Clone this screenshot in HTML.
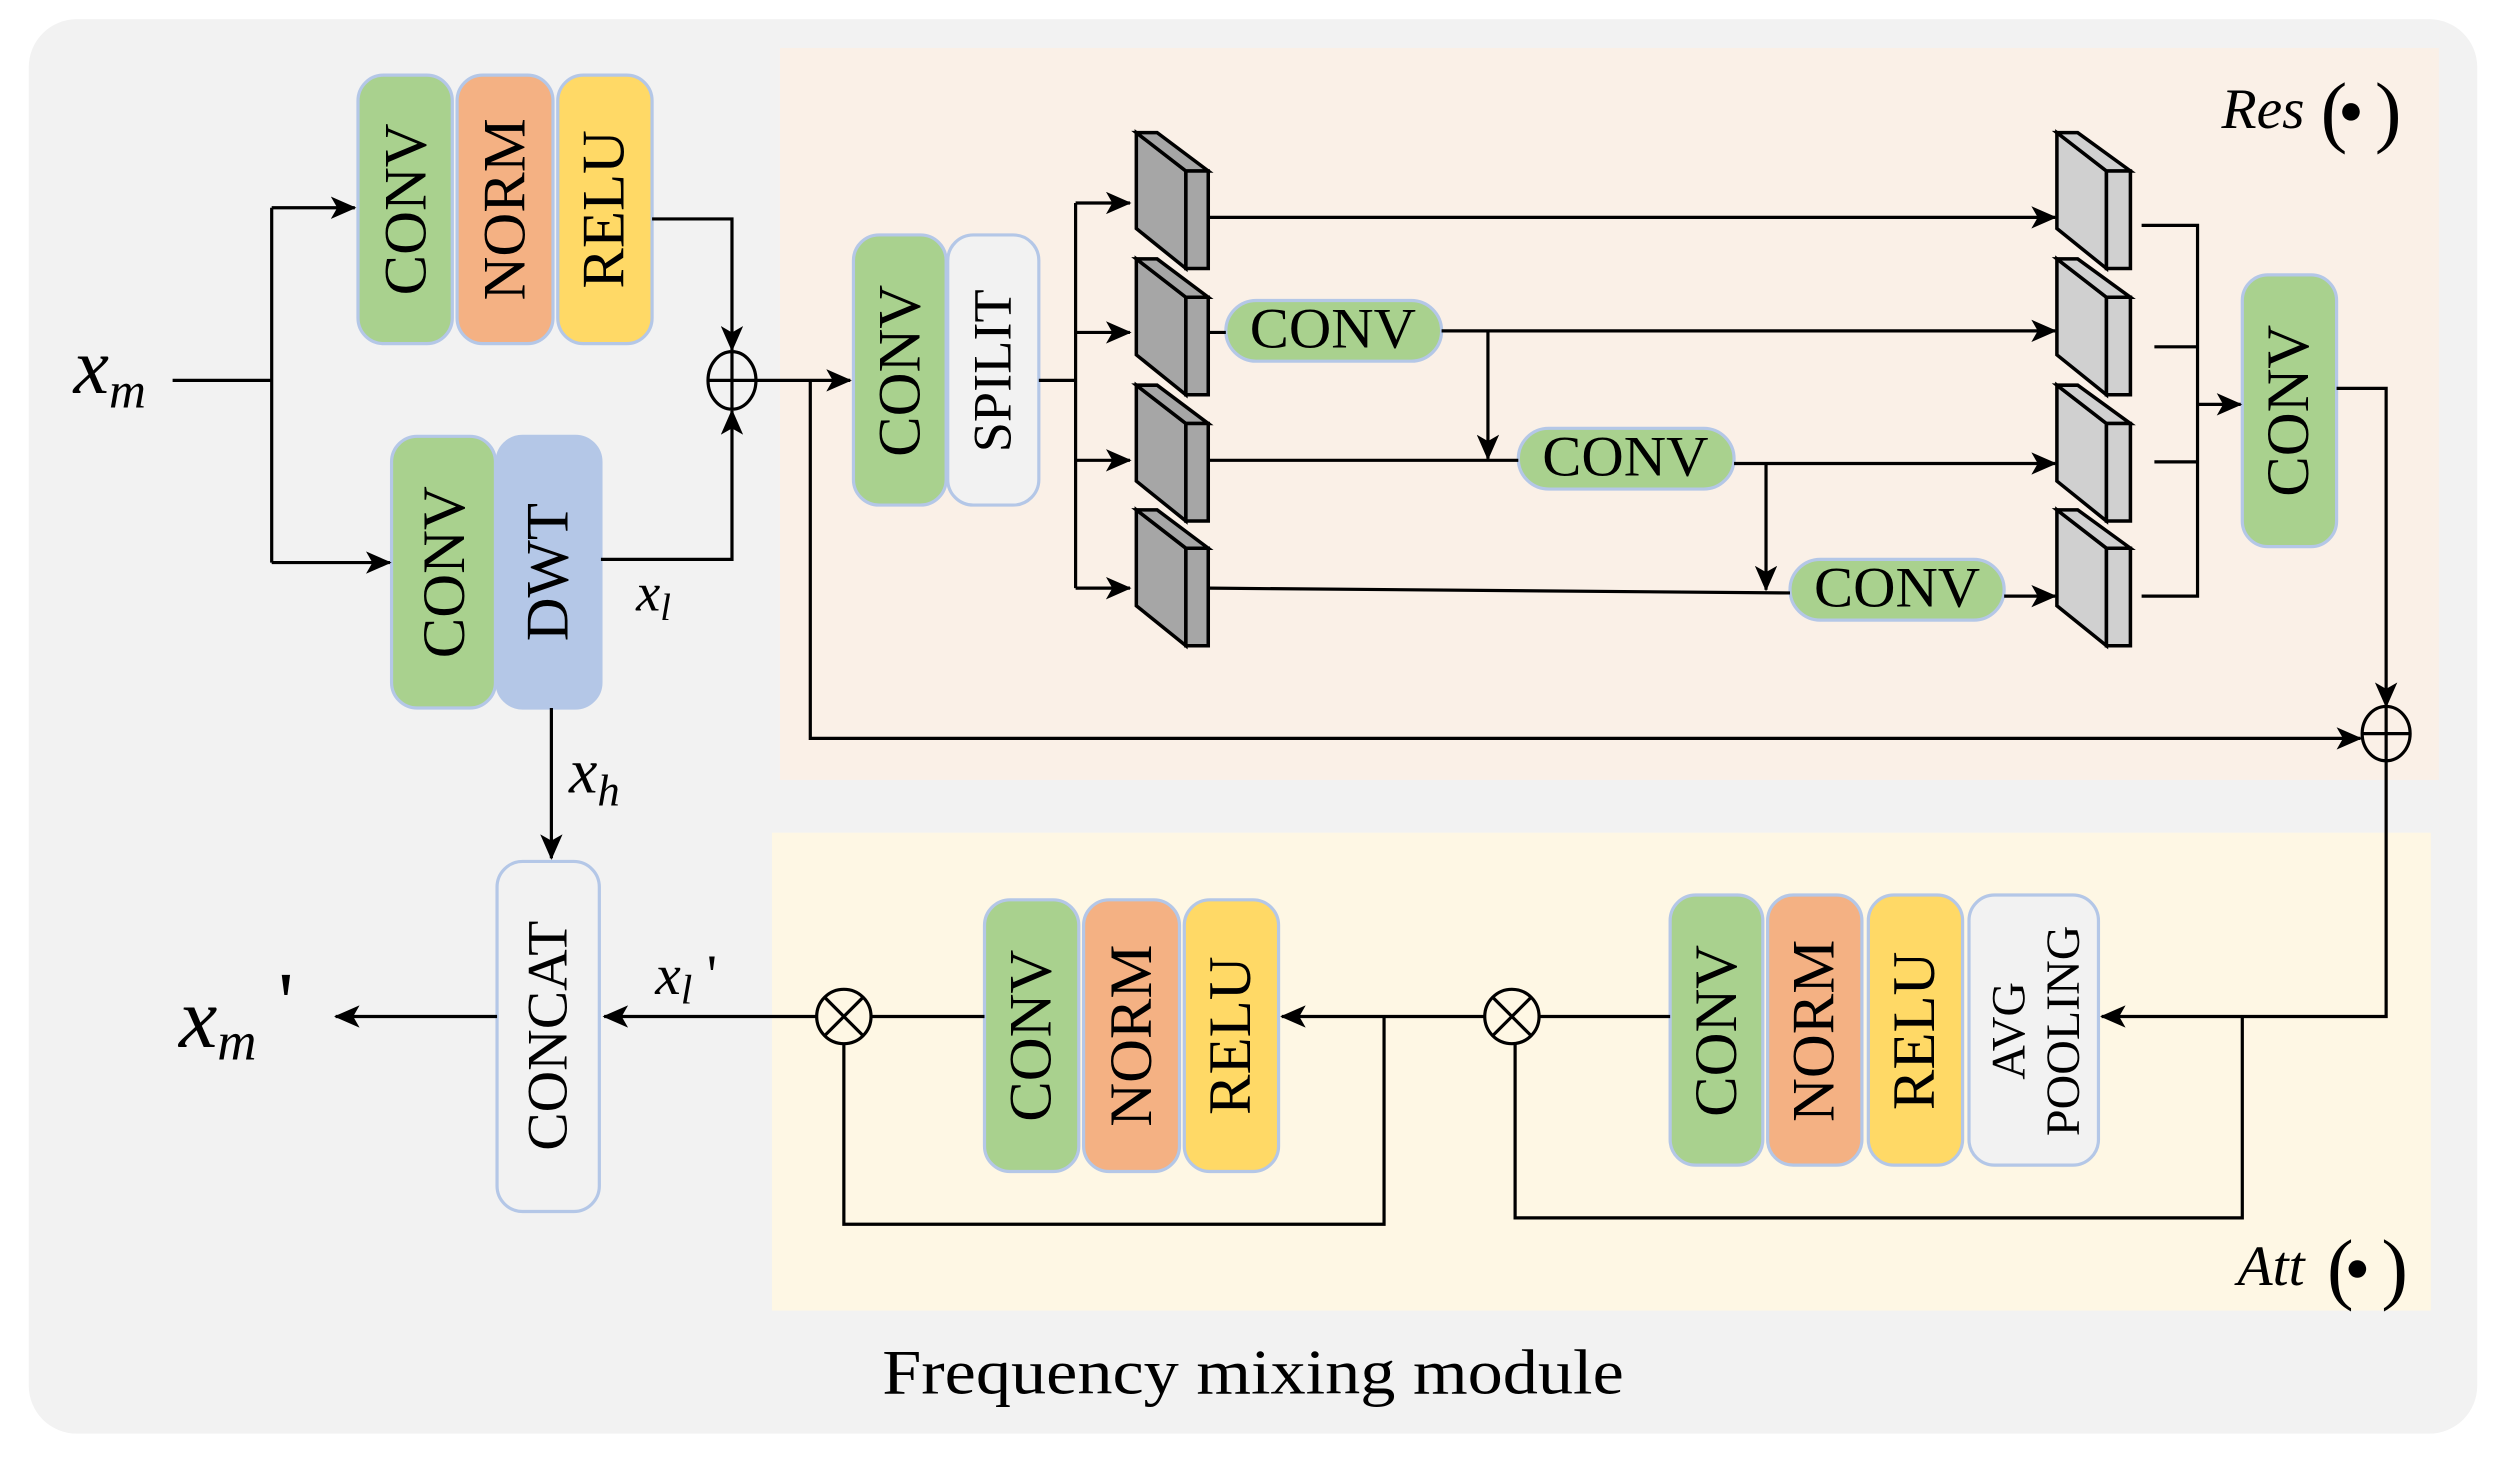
<!DOCTYPE html>
<html><head><meta charset="utf-8"><style>html,body{margin:0;padding:0;background:#fff}svg{display:block}</style></head>
<body>
<svg width="2506" height="1468" viewBox="0 0 1568 918.5" preserveAspectRatio="none" xmlns="http://www.w3.org/2000/svg" font-family="'Liberation Serif', serif">
<defs>
<marker id="a" markerWidth="16" markerHeight="14" refX="15" refY="7" orient="auto" markerUnits="userSpaceOnUse"><path d="M0,0 L16,7 L0,14 L4,7 Z" fill="#000"/></marker>
</defs>
<rect x="18" y="12" width="1532" height="885" rx="30" fill="#f2f2f2"/>
<rect x="488" y="30" width="1038" height="458" fill="#faf0e7"/>
<rect x="483" y="521" width="1038" height="299" fill="#fef7e4"/>
<g stroke="#b4c7e7" stroke-width="2">
<rect x="224" y="47" width="59" height="168" rx="16" fill="#a9d18e"/>
<rect x="286" y="47" width="60" height="168" rx="16" fill="#f4b183"/>
<rect x="349" y="47" width="59" height="168" rx="16" fill="#ffd966"/>
<rect x="245" y="273" width="65" height="170" rx="16" fill="#a9d18e"/>
<rect x="311" y="273" width="65" height="170" rx="16" fill="#b4c7e7"/>
<rect x="534" y="147" width="58" height="169" rx="16" fill="#a9d18e"/>
<rect x="593" y="147" width="57" height="169" rx="16" fill="#f2f2f2"/>
<rect x="1403" y="172" width="59" height="170" rx="16" fill="#a9d18e"/>
<rect x="767" y="188" width="135" height="38" rx="19" fill="#a9d18e"/>
<rect x="950" y="268" width="135" height="38" rx="19" fill="#a9d18e"/>
<rect x="1120" y="350" width="134" height="38" rx="19" fill="#a9d18e"/>
<rect x="311" y="539" width="64" height="219" rx="16" fill="#f2f2f2"/>
<rect x="616" y="563" width="59" height="170" rx="16" fill="#a9d18e"/>
<rect x="678" y="563" width="60" height="170" rx="16" fill="#f4b183"/>
<rect x="741" y="563" width="59" height="170" rx="16" fill="#ffd966"/>
<rect x="1045" y="560" width="58" height="169" rx="16" fill="#a9d18e"/>
<rect x="1106" y="560" width="59" height="169" rx="16" fill="#f4b183"/>
<rect x="1169" y="560" width="59" height="169" rx="16" fill="#ffd966"/>
<rect x="1232" y="560" width="81" height="169" rx="16" fill="#f2f2f2"/>
</g>
<g font-size="38" text-anchor="middle" dominant-baseline="central">
<text transform="translate(254,131) rotate(-90)">CONV</text>
<text transform="translate(316,131) rotate(-90)">NORM</text>
<text transform="translate(378,131) rotate(-90)">RELU</text>
<text transform="translate(278,358) rotate(-90)">CONV</text>
<text transform="translate(343,358) rotate(-90)">DWT</text>
<text transform="translate(563,232) rotate(-90)">CONV</text>
<text transform="translate(621,232) rotate(-90)" font-size="34">SPILIT</text>
<text transform="translate(1432,257) rotate(-90)">CONV</text>
<text transform="translate(343,648) rotate(-90)" font-size="36">CONCAT</text>
<text transform="translate(645,648) rotate(-90)">CONV</text>
<text transform="translate(708,648) rotate(-90)">NORM</text>
<text transform="translate(770,648) rotate(-90)">RELU</text>
<text transform="translate(1074,645) rotate(-90)">CONV</text>
<text transform="translate(1135,645) rotate(-90)">NORM</text>
<text transform="translate(1198,645) rotate(-90)">RELU</text>
<text transform="translate(1257,645) rotate(-90)" font-size="30">AVG</text>
<text transform="translate(1291,645) rotate(-90)" font-size="30">POOLING</text>
<text x="834" y="206" font-size="36" textLength="104" lengthAdjust="spacingAndGlyphs">CONV</text>
<text x="1017" y="286" font-size="36" textLength="104" lengthAdjust="spacingAndGlyphs">CONV</text>
<text x="1187" y="368" font-size="36" textLength="104" lengthAdjust="spacingAndGlyphs">CONV</text>
</g>
<g stroke="#000" stroke-width="2.2" stroke-linejoin="miter">
<g id="cl" fill="#a6a6a6">
<path d="M711,83 L742,107 L742,168 L711,143 Z"/><path d="M711,83 L724,83 L756,107 L742,107 Z"/><path d="M742,107 L756,107 L756,168 L742,168 Z"/>
</g>
<use href="#cl" y="79"/><use href="#cl" y="158"/><use href="#cl" y="236"/>
<g id="cr" fill="#d0d0d0">
<path d="M1287,83 L1318,107 L1318,168 L1287,143 Z"/><path d="M1287,83 L1300,83 L1333,107 L1318,107 Z"/><path d="M1318,107 L1333,107 L1333,168 L1318,168 Z"/>
</g>
<use href="#cr" y="79"/><use href="#cr" y="158"/><use href="#cr" y="236"/>
</g>
<g stroke="#000" stroke-width="2" fill="none">
<path d="M108,238 H170"/>
<path d="M170,130 V352"/>
<path d="M170,130 H222" marker-end="url(#a)"/>
<path d="M170,352 H244" marker-end="url(#a)"/>
<path d="M408,137 H458 V219" marker-end="url(#a)"/>
<path d="M376,350 H458 V257" marker-end="url(#a)"/>
<ellipse cx="458" cy="238" rx="15" ry="18"/>
<path d="M443,238 H473 M458,220 V256"/>
<path d="M473,238 H532" marker-end="url(#a)"/>
<path d="M507,238 V462 H1477" marker-end="url(#a)"/>
<path d="M345,443 V537" marker-end="url(#a)"/>
<path d="M650,238 H673 M673,127 V368"/>
<path d="M673,127 H707" marker-end="url(#a)"/>
<path d="M673,208 H707" marker-end="url(#a)"/>
<path d="M673,288 H707" marker-end="url(#a)"/>
<path d="M673,368 H707" marker-end="url(#a)"/>
<path d="M757,136 H1286" marker-end="url(#a)"/>
<path d="M757,208 H767"/>
<path d="M902,207 H1286" marker-end="url(#a)"/>
<path d="M931,207 V287" marker-end="url(#a)"/>
<path d="M757,288 H950"/>
<path d="M1085,290 H1286" marker-end="url(#a)"/>
<path d="M1105,290 V369" marker-end="url(#a)"/>
<path d="M757,368 L1120,371"/>
<path d="M1254,373 H1286" marker-end="url(#a)"/>
<path d="M1340,141 H1375 V373 H1340 M1348,217 H1375 M1348,289 H1375"/>
<path d="M1375,253 H1402" marker-end="url(#a)"/>
<path d="M1462,243 H1493 V442" marker-end="url(#a)"/>
<ellipse cx="1493" cy="459" rx="15" ry="17"/>
<path d="M1478,459 H1508 M1493,442 V476"/>
<path d="M1493,476 V636 H1315" marker-end="url(#a)"/>
<path d="M1403,636 V762 H948 V653"/>
<circle cx="946" cy="636" r="17"/>
<path d="M934,624 L958,648 M958,624 L934,648"/>
<path d="M963,636 H1045"/>
<path d="M929,636 H802" marker-end="url(#a)"/>
<path d="M866,636 V766 H528 V653"/>
<circle cx="528" cy="636" r="17"/>
<path d="M516,624 L540,648 M540,624 L516,648"/>
<path d="M545,636 H616"/>
<path d="M511,636 H378" marker-end="url(#a)"/>
<path d="M311,636 H210" marker-end="url(#a)"/>
</g>
<g font-style="italic" fill="#000">
<text x="46" y="246" font-size="50">x<tspan font-size="32" dy="9">m</tspan></text>
<text x="398" y="382" font-size="34">x<tspan font-size="24" dy="6">l</tspan></text>
<text x="356" y="496" font-size="40">x<tspan font-size="28" dy="8">h</tspan></text>
<text x="410" y="622" font-size="36">x<tspan font-size="26" dy="6">l</tspan><tspan font-style="normal" dy="-6"> '</tspan></text>
<text x="112" y="655" font-size="54">x<tspan font-size="34" dy="8">m</tspan><tspan font-style="normal" dy="-18"> '</tspan></text>
<text x="1390" y="80" font-size="36">Res</text>
<text x="1400" y="804" font-size="36">Att</text>
</g>
<g font-size="50" fill="#000">
<text x="1452" y="86">(</text><text x="1486" y="86">)</text><circle cx="1471" cy="70" r="5.5"/>
<text x="1456" y="810">(</text><text x="1490" y="810">)</text><circle cx="1475" cy="794" r="5.5"/>
</g>
<text x="784" y="872" font-size="40" text-anchor="middle" textLength="464" lengthAdjust="spacingAndGlyphs">Frequency mixing module</text>
</svg>
</body></html>
